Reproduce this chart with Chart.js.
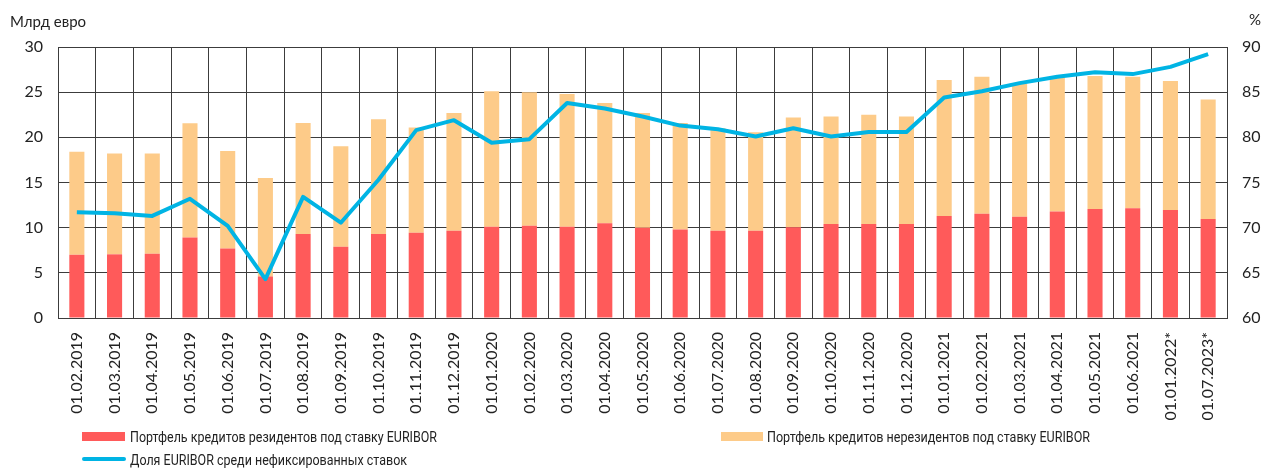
<!DOCTYPE html>
<html>
<head>
<meta charset="utf-8">
<script src="https://cdn.jsdelivr.net/npm/chart.js@4/dist/chart.umd.min.js"></script>
<style>
  body { margin: 0; background: #fff; }
  #wrap { position: relative; width: 1262px; height: 468px; font-family: Lato, sans-serif; color: #222; }
  .title { position: absolute; font-size: 15px; }
  .leg { position: absolute; font-family: Roboto, sans-serif; font-size: 15.5px; line-height: 18px; color: #222; white-space: nowrap; transform-origin: 0 0; }
  .sw { position: absolute; }
</style>
</head>
<body>
<div id="wrap">
  <canvas id="euriborChart" width="1262" height="468"></canvas>
  <div class="title" style="left:10px; top:12px;">Млрд евро</div>
  <div class="title" style="left:1249px; top:10px;">%</div>

  <div class="sw" style="left:82px; top:432px; width:43px; height:9px; background:#ff5a5a;"></div>
  <div class="leg" data-w="307" style="left:130px; top:428px;">Портфель кредитов резидентов под ставку EURIBOR</div>
  <div class="sw" style="left:721px; top:432px; width:42px; height:9px; background:#fdcb89;"></div>
  <div class="leg" data-w="323" style="left:767px; top:428px;">Портфель кредитов нерезидентов под ставку EURIBOR</div>
  <div class="sw" style="left:82px; top:457px; width:44px; height:4px; border-radius:2px; background:#00b4e4;"></div>
  <div class="leg" data-w="277" style="left:130px; top:451px;">Доля EURIBOR среди нефиксированных ставок</div>
</div>
<script>
const dates = ['01.02.2019', '01.03.2019', '01.04.2019', '01.05.2019', '01.06.2019', '01.07.2019',
  '01.08.2019', '01.09.2019', '01.10.2019', '01.11.2019', '01.12.2019', '01.01.2020', '01.02.2020',
  '01.03.2020', '01.04.2020', '01.05.2020', '01.06.2020', '01.07.2020', '01.08.2020', '01.09.2020',
  '01.10.2020', '01.11.2020', '01.12.2020', '01.01.2021', '01.02.2021', '01.03.2021', '01.04.2021',
  '01.05.2021', '01.06.2021', '01.01.2022*', '01.07.2023*'];

// млрд евро
const residents = [7.0, 7.05, 7.1, 8.9, 7.7, 4.6, 9.3, 7.9, 9.3, 9.45, 9.67, 10.1, 10.2, 10.1, 10.5,
  10.0, 9.8, 9.67, 9.67, 10.05, 10.4, 10.4, 10.4, 11.3, 11.55, 11.2, 11.8, 12.07, 12.15, 11.96, 10.96];
const nonResidents = [11.4, 11.15, 11.1, 12.65, 10.8, 10.9, 12.3, 11.1, 12.7, 11.65, 13.03, 15.0, 14.8,
  14.7, 13.3, 12.7, 11.8, 11.33, 10.88, 12.15, 11.9, 12.1, 11.9, 15.05, 15.15, 14.7, 14.85, 14.73, 14.55, 14.29, 13.24];

// %
const euriborShare = [71.7, 71.6, 71.3, 73.2, 70.2, 64.3, 73.4, 70.55, 75.3, 80.8, 81.9, 79.4, 79.8,
  83.8, 83.2, 82.3, 81.3, 80.9, 80.1, 81.0, 80.1, 80.6, 80.6, 84.4, 85.1, 86.0, 86.7, 87.2, 87.0, 87.8, 89.2];

const gridColor = '#3c3c3c';
const tickFont = { family: 'Lato', size: 16 };

// legend texts are squeezed to the widths they have in the original
function fitLegend() {
  document.querySelectorAll('.leg').forEach(el => {
    el.style.transform = 'none';
    const w = el.getBoundingClientRect().width;
    el.style.transform = `scaleX(${el.dataset.w / w})`;
  });
}
fitLegend();
document.fonts.ready.then(fitLegend);

new Chart(document.getElementById('euriborChart').getContext('2d'), {
  type: 'bar',
  data: {
    labels: dates,
    datasets: [
      { type: 'line', label: 'Доля EURIBOR среди нефиксированных ставок', data: euriborShare, yAxisID: 'y1',
        borderColor: '#00b4e4', borderWidth: 4, pointRadius: 0, tension: 0, order: 0, borderJoinStyle: 'round' },
      { label: 'Портфель кредитов резидентов под ставку EURIBOR', data: residents, backgroundColor: '#ff5a5a',
        stack: 's', order: 1, categoryPercentage: 1, barPercentage: 0.4 },
      { label: 'Портфель кредитов нерезидентов под ставку EURIBOR', data: nonResidents, backgroundColor: '#fdcb89',
        stack: 's', order: 1, categoryPercentage: 1, barPercentage: 0.4 }
    ]
  },
  options: {
    responsive: false,
    animation: false,
    layout: { padding: { top: 47, left: 0, right: 0, bottom: 0 } },
    plugins: { legend: { display: false }, tooltip: { enabled: false } },
    scales: {
      x: {
        stacked: true,
        grid: { color: gridColor, drawTicks: false, offset: true },
        border: { color: gridColor },
        ticks: { color: '#222', font: tickFont, minRotation: 90, maxRotation: 90, padding: 14, autoSkip: false },
        afterFit: s => { s.height = 150; }
      },
      y: {
        stacked: true, min: 0, max: 30,
        grid: { color: gridColor, drawTicks: false },
        border: { color: gridColor },
        ticks: { stepSize: 5, color: '#222', font: tickFont, padding: 15 },
        afterFit: s => { s.width = 58; }
      },
      y1: {
        position: 'right', min: 60, max: 90,
        grid: { drawOnChartArea: false, drawTicks: false },
        border: { color: gridColor },
        ticks: { stepSize: 5, color: '#222', font: tickFont, padding: 15 },
        afterFit: s => { s.width = 35; }
      }
    }
  }
});
</script>
</body>
</html>
